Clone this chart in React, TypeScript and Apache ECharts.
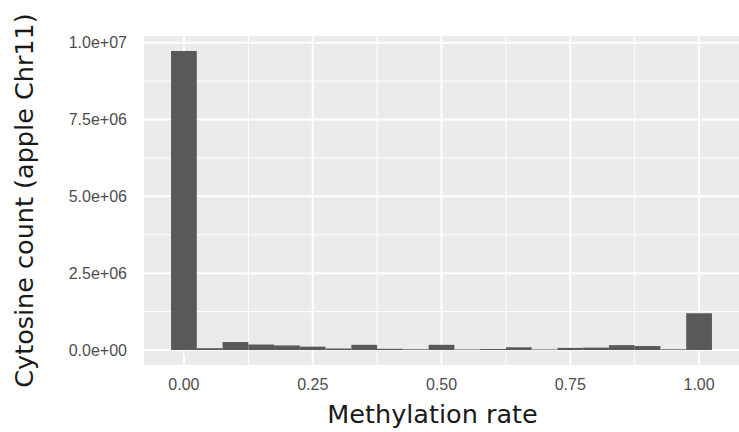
import React, { useEffect, useRef } from "react";
import * as echarts from "echarts";

// Histogram bins (centre of each bin, bin width 0.05)
const binWidth = 0.05;
const binCenters = [0, 0.05, 0.1, 0.15, 0.2, 0.25, 0.3, 0.35, 0.4, 0.45, 0.5, 0.55, 0.6, 0.65, 0.7, 0.75, 0.8, 0.85, 0.9, 0.95, 1.0];
const counts = [9730000, 60000, 260000, 180000, 150000, 110000, 50000, 170000, 40000, 25000, 170000, 20000, 35000, 90000, 20000, 70000, 80000, 160000, 130000, 25000, 1200000];

// Axis breaks
const xTicks = [0, 0.25, 0.5, 0.75, 1];
const xTickLabels = ["0.00", "0.25", "0.50", "0.75", "1.00"];
const xMinor = [0.125, 0.375, 0.625, 0.875];
const yTicks = [0, 2500000, 5000000, 7500000, 10000000];
const yTickLabels = ["0.0e+00", "2.5e+06", "5.0e+06", "7.5e+06", "1.0e+07"];
const yMinor = [1250000, 3750000, 6250000, 8750000];

const xTitle = "Methylation rate";
const yTitle = "Cytosine count (apple Chr11)";

function labelFor(v: number, ticks: number[], labels: string[]) {
  let best = 0;
  let bd = Infinity;
  ticks.forEach((t, i) => {
    const d = Math.abs(t - v);
    if (d < bd) {
      bd = d;
      best = i;
    }
  });
  return labels[best];
}

export default function App() {
  const ref = useRef<HTMLDivElement>(null);
  useEffect(() => {
    if (!ref.current) return;
    const chart = echarts.init(ref.current, undefined, { renderer: "svg" });

    // ggplot-style expansion
    const lo = binCenters[0] - binWidth / 2;
    const hi = binCenters[binCenters.length - 1] + binWidth / 2;
    const xPad = (hi - lo) * 0.05;
    const yMax = Math.max(...counts);
    const yPad = yMax * 0.05;

    const vLine = (width: number) => (params: any, api: any) => {
      const cs = params.coordSys;
      const p = api.coord([api.value(0), 0]);
      return {
        type: "line",
        shape: { x1: p[0], y1: cs.y, x2: p[0], y2: cs.y + cs.height },
        style: { stroke: "#FFFFFF", lineWidth: width },
        silent: true,
      };
    };
    const hLine = (width: number) => (params: any, api: any) => {
      const cs = params.coordSys;
      const p = api.coord([0, api.value(1)]);
      return {
        type: "line",
        shape: { x1: cs.x, y1: p[1], x2: cs.x + cs.width, y2: p[1] },
        style: { stroke: "#FFFFFF", lineWidth: width },
        silent: true,
      };
    };

    chart.setOption({
      animation: false,
      backgroundColor: "#FFFFFF",
      grid: {
        left: 144,
        top: 36,
        width: 605,
        height: 332,
        show: true,
        backgroundColor: "#EBEBEB",
        borderWidth: 0,
      },
      xAxis: {
        type: "value",
        min: lo - xPad,
        max: hi + xPad,
        axisLine: { show: false },
        splitLine: { show: false },
        axisTick: {
          show: true,
          customValues: xTicks,
          length: 5,
          lineStyle: { color: "#333333", width: 1 },
        },
        axisLabel: {
          customValues: xTicks,
          formatter: (v: number) => labelFor(v, xTicks, xTickLabels),
          color: "#4D4D4D",
          fontSize: 16,
          fontFamily: "Liberation Sans",
          margin: 11,
        },
        name: xTitle,
        nameLocation: "middle",
        nameGap: 36,
        nameTextStyle: {
          color: "#1A1A1A",
          fontSize: 25.5,
          fontFamily: "DejaVu Sans",
          padding: [0, 18, 0, 0],
        },
      },
      yAxis: {
        type: "value",
        min: -yPad,
        max: yMax + yPad,
        axisLine: { show: false },
        splitLine: { show: false },
        axisTick: {
          show: true,
          customValues: yTicks,
          length: 5,
          lineStyle: { color: "#333333", width: 1 },
        },
        axisLabel: {
          customValues: yTicks,
          formatter: (v: number) => labelFor(v, yTicks, yTickLabels),
          color: "#4D4D4D",
          fontSize: 16,
          fontFamily: "Liberation Sans",
          margin: 17,
        },
        name: yTitle,
        nameLocation: "middle",
        nameGap: 107,
        nameTextStyle: {
          color: "#1A1A1A",
          fontSize: 25.5,
          fontFamily: "DejaVu Sans",
        },
      },
      series: [
        {
          type: "custom",
          silent: true,
          renderItem: vLine(1),
          data: xMinor.map((v) => [v, 0]),
        },
        {
          type: "custom",
          silent: true,
          renderItem: hLine(1),
          data: yMinor.map((v) => [0, v]),
        },
        {
          type: "custom",
          silent: true,
          renderItem: vLine(2),
          data: xTicks.map((v) => [v, 0]),
        },
        {
          type: "custom",
          silent: true,
          renderItem: hLine(2),
          data: yTicks.map((v) => [0, v]),
        },
        {
          type: "custom",
          name: "count",
          renderItem: (params: any, api: any) => {
            const x = api.value(0);
            const y = api.value(1);
            const p0 = api.coord([x - binWidth / 2, y]);
            const p1 = api.coord([x + binWidth / 2, 0]);
            return {
              type: "rect",
              shape: { x: p0[0], y: p0[1], width: p1[0] - p0[0], height: p1[1] - p0[1] },
              style: { fill: "#595959" },
            };
          },
          data: binCenters.map((c, i) => [c, counts[i]]),
        },
      ],
    });
    return () => chart.dispose();
  }, []);
  return (
    <div
      ref={ref}
      style={{ position: "absolute", left: 0, top: 0, width: 739, height: 432 }}
    />
  );
}
